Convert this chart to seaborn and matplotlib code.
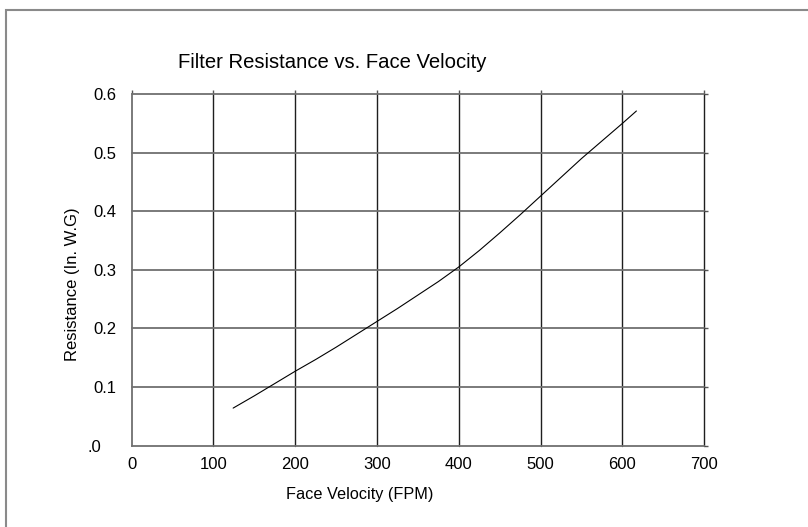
import matplotlib
matplotlib.use("Agg")
import matplotlib.pyplot as plt
import matplotlib.transforms as mtransforms
from matplotlib.patches import Rectangle
import seaborn as sns
import pandas as pd

# Filter resistance curve (in. W.G.) against face velocity (FPM)
velocity = [124, 150, 175, 200, 225, 250, 275, 300, 325, 350, 375, 400,
            425, 450, 475, 500, 525, 550, 575, 600, 617]
resistance = [0.064, 0.085, 0.106, 0.127, 0.147, 0.168, 0.190, 0.212, 0.234, 0.257, 0.280, 0.305,
              0.333, 0.363, 0.394, 0.426, 0.458, 0.490, 0.520, 0.550, 0.571]

x_ticks = [0, 100, 200, 300, 400, 500, 600, 700]
x_tick_labels = ["0", "100", "200", "300", "400", "500", "600", "700"]
y_ticks = [0.0, 0.1, 0.2, 0.3, 0.4, 0.5, 0.6]
y_tick_labels = [".0", "0.1", "0.2", "0.3", "0.4", "0.5", "0.6"]

title = "Filter Resistance vs. Face Velocity"
x_label = "Face Velocity (FPM)"
y_label = "Resistance (In. W.G)"

sns.set_style("white")
plt.rcParams["font.family"] = ["Liberation Sans", "DejaVu Sans"]
plt.rcParams["text.color"] = "black"

df = pd.DataFrame({"velocity": velocity, "resistance": resistance})

W, H = 808, 527
fig = plt.figure(figsize=(W / 100, H / 100), dpi=100)
fig.patch.set_facecolor("white")

# outer frame (open on the right and bottom)
fig.patches.append(Rectangle((5.5 / W, -0.1), 1.2, 1.1 - 9.5 / H, transform=fig.transFigure,
                             fill=False, edgecolor="#8a8a8a", linewidth=1.5, zorder=0))

ax = fig.add_axes([131.7 / W, 1 - 445.6 / H, (704.3 - 131.7) / W, (445.6 - 94) / H])
ax.set_facecolor("white")

sns.lineplot(data=df, x="velocity", y="resistance", ax=ax, color="black",
             linewidth=0.8, zorder=5)

ax.set_xlim(0, 700)
ax.set_ylim(0, 0.6)
ax.set_xticks(x_ticks)
ax.set_xticklabels(x_tick_labels)
ax.set_yticks(y_ticks)
ax.set_yticklabels(y_tick_labels)

# grid lines
for v in x_ticks[1:]:
    ax.axvline(v, color="#1e1e1e", linewidth=1.0, zorder=2, clip_on=False)
for r in y_ticks[1:]:
    ax.axhline(r, color="#707070", linewidth=1.3, zorder=2, clip_on=False)

for side in ["top", "right"]:
    ax.spines[side].set_visible(False)
ax.spines["left"].set_color("#707070")
ax.spines["left"].set_linewidth(1.3)
ax.spines["bottom"].set_color("#707070")
ax.spines["bottom"].set_linewidth(1.3)

ax.tick_params(axis="both", direction="out", length=3, width=1.0, color="#555555",
               labelsize=12, labelcolor="black", top=True, right=True)
ax.tick_params(axis="x", pad=5)
ax.tick_params(axis="y", pad=8)

# the zero label sits further left
zero_lbl = ax.get_yticklabels()[0]
zero_lbl.set_transform(zero_lbl.get_transform() +
                       mtransforms.ScaledTranslation(-15 / 100, 0, fig.dpi_scale_trans))

ax.set_xlabel("")
ax.set_ylabel("")
fig.text(360 / W, 1 - 494 / H, x_label, ha="center", va="center", fontsize=11.7, color="black")
fig.text(73 / W, 1 - 284 / H, y_label, ha="center", va="center", rotation=90,
         fontsize=12, color="black")
fig.text(332 / W, 1 - 62 / H, title, ha="center", va="center", fontsize=14.6, color="black")

fig.savefig("out.png", dpi=100, facecolor="white")
